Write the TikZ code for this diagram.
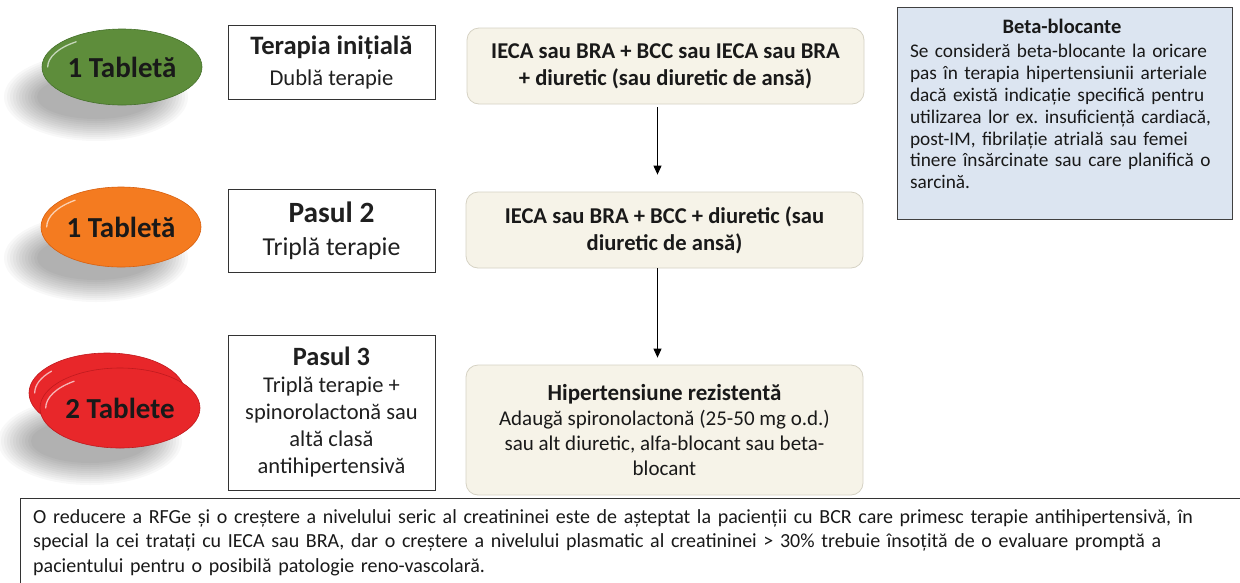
\documentclass[tikz,border=0pt]{standalone}
\usepackage{fontspec}
\setmainfont{Carlito}
\usetikzlibrary{shapes.geometric,arrows.meta}
\setlength{\parindent}{0pt}
\hyphenpenalty=10000
\exhyphenpenalty=10000
\frenchspacing
\definecolor{pgreen}{HTML}{5E8D3B}
\definecolor{pgreendark}{HTML}{44702A}
\definecolor{porange}{HTML}{F47B20}
\definecolor{porangedark}{HTML}{D8600F}
\definecolor{pred}{HTML}{E8272A}
\definecolor{preddark}{HTML}{C01A1E}
\definecolor{cream}{HTML}{F6F3E8}
\definecolor{creamline}{HTML}{D6D2C4}
\definecolor{betafill}{HTML}{DCE5F1}
\definecolor{betaline}{HTML}{404040}
\definecolor{boxline}{HTML}{333333}
\colorlet{pillmain}{pgreen}
\colorlet{pillrim}{pgreendark}
\pgfdeclareradialshading[pillmain,pillrim]{pillshade}{\pgfpoint{0bp}{0bp}}{color(0bp)=(pillmain); color(36bp)=(pillmain); color(50bp)=(pillrim)}
\newcommand\pillshadow[2]{%
  \foreach \i in {0,...,11}{%
    \fill[black,opacity=0.026] (#1,#2) ellipse[x radius={92pt-3pt*\i}, y radius={44pt-2pt*\i}];}}
\newcommand\jline[1]{\makebox[\linewidth][s]{#1}\par}
\tikzset{
  pill/.style={ellipse, shading=pillshade, draw=pillrim, line width=0.6pt,
    minimum width=160pt, minimum height=76pt, inner sep=0pt,
    font=\fontsize{29}{31}\selectfont\bfseries, text=black!90},
  lbox/.style={draw=boxline, line width=1pt, minimum width=207pt, align=center, inner sep=0pt, text=black!88},
  rbox/.style={draw=creamline, fill=cream, line width=0.8pt, rounded corners=12pt,
    minimum width=397pt, minimum height=76pt, align=center, inner sep=0pt, text=black!90},
  arr/.style={-{Triangle[length=9pt,width=8pt]}, line width=1pt},
  gloss/.style={white, opacity=0.65, line width=1.3pt, line cap=round}
}
\begin{document}
\begin{tikzpicture}[x=1pt,y=-1pt]
\useasboundingbox (0,0) rectangle (1240,582);
\fill[white] (0,0) rectangle (1240,582);
\clip (0,0) rectangle (1240,582);

% shadows
\pillshadow{96}{97}
\pillshadow{96}{258}
\pillshadow{90}{441}

% pills
\colorlet{pillmain}{pgreen}\colorlet{pillrim}{pgreendark}
\node[pill, minimum height=76pt] (p1) at (122,67) {1 Tabletă};
\draw[gloss] ([xshift=6pt]p1.west) arc[start angle=180, end angle=128, x radius=74pt, y radius=32pt];

\colorlet{pillmain}{porange}\colorlet{pillrim}{porangedark}
\node[pill, minimum height=80pt] (p2) at (121,227) {1 Tabletă};
\draw[gloss] ([xshift=6pt]p2.west) arc[start angle=180, end angle=128, x radius=74pt, y radius=34pt];

\colorlet{pillmain}{pred}\colorlet{pillrim}{preddark}
\node[pill, minimum width=156pt, minimum height=80pt] (p3b) at (107,393) {};
\draw[gloss] ([xshift=6pt]p3b.west) arc[start angle=180, end angle=140, x radius=72pt, y radius=34pt];
\node[pill, minimum height=80pt] (p3) at (120,408) {2 Tablete};
\draw[gloss] ([xshift=6pt]p3.west) arc[start angle=180, end angle=128, x radius=74pt, y radius=34pt];

% left boxes
\node[lbox, minimum height=74pt, font=\fontsize{22.6}{31}\selectfont] (t1) at (331.5,62.5)
  {{\fontsize{26.6}{31}\selectfont\bfseries Terapia inițială}\\Dublă terapie};
\node[lbox, minimum height=83pt, font=\fontsize{25.8}{33}\selectfont] (t2) at (331.5,230.5)
  {{\fontsize{29.4}{33}\selectfont\bfseries Pasul 2}\\Triplă terapie};
\node[lbox, minimum height=155pt, font=\fontsize{22.5}{27}\selectfont] (t3) at (331.5,412.5)
  {{\fontsize{26.4}{27}\selectfont\bfseries Pasul 3}\\Triplă terapie +\\spinorolactonă sau\\altă clasă\\antihipertensivă};

% rounded boxes
\node[rbox, font=\fontsize{22.6}{27}\selectfont\bfseries] (r1) at (665.5,66)
  {IECA sau BRA + BCC sau IECA sau BRA\\+ diuretic (sau diuretic de ansă)};
\node[rbox, font=\fontsize{22.6}{27}\selectfont\bfseries] (r2) at (664.5,230)
  {IECA sau BRA + BCC + diuretic (sau\\diuretic de ansă)};
\node[rbox, minimum height=130pt, font=\fontsize{21}{24.8}\selectfont] (r3) at (664.5,430)
  {{\fontsize{23}{24.8}\selectfont\bfseries Hipertensiune rezistentă}\\Adaugă spironolactonă (25-50 mg o.d.)\\sau alt diuretic, alfa-blocant sau beta-\\blocant};

% arrows
\draw[arr] ([xshift=-8pt,yshift=-3pt]r1.south) -- ([xshift=-7pt,yshift=17pt]r2.north);
\draw[arr] ([xshift=-7pt]r2.south) -- ([xshift=-7pt,yshift=7pt]r3.north);

% beta box
\node[draw=betaline, fill=betafill, line width=1pt, minimum width=335pt, minimum height=212pt, inner sep=0pt] (beta) at (1064.5,113) {};
\node[anchor=north, text width=304pt, inner sep=0pt, text=black!90,
  font=\fontsize{19.3}{21.8}\selectfont] (betatxt) at (1062,19)
  {{\centering\fontsize{20.5}{21.8}\selectfont\bfseries Beta-blocante\par}\vspace{2.5pt}
  \jline{Se consideră beta-blocante la oricare}
  \jline{pas în terapia hipertensiunii arteriale}
  \jline{dacă există indicație specifică pentru}
  \jline{utilizarea lor ex. insuficiență cardiacă,}
  \jline{post-IM, fibrilație atrială sau femei}
  \jline{tinere însărcinate sau care planifică o}
  sarcină.};

% bottom note
\node[draw=boxline, line width=1.2pt, anchor=north west, minimum width=1260pt, minimum height=120pt, inner sep=0pt] (notebox) at (20,498) {};
\node[anchor=north west, text width=1189pt, inner sep=0pt, text=black!90,
  font=\fontsize{20}{24.5}\selectfont] (note) at (33,509)
  {\jline{O reducere a RFGe și o creștere a nivelului seric al creatininei este de așteptat la pacienții cu BCR care primesc terapie antihipertensivă, în}
  \jline{special la cei tratați cu IECA sau BRA, dar o creștere a nivelului plasmatic al creatininei > 30\% trebuie însoțită de o evaluare promptă a}
  pacientului pentru o posibilă patologie reno-vascolară.};
\end{tikzpicture}
\end{document}
